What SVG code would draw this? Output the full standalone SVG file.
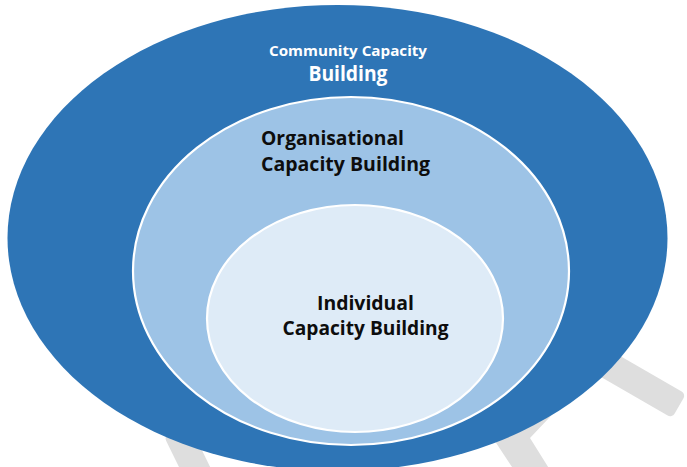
<svg xmlns="http://www.w3.org/2000/svg" width="687" height="467" viewBox="0 0 687 467">
  <style>
    .wm { fill: #DEDEDE; }
    .ring { stroke: #FFFFFF; stroke-width: 2.2; }
    .lbl { font-family: "Open Sans", "Liberation Sans", sans-serif; font-weight: bold; }
    .dark { fill: #0D0D0D; font-size: 20px; }
    .light { fill: #FFFFFF; }
  </style>
  <rect width="687" height="467" fill="#FFFFFF"/>
  <g id="watermark">
    <rect class="wm" x="-160" y="-14" width="160" height="28" rx="5" transform="translate(679,406) rotate(30)"/>
    <polygon class="wm" points="475,411 514,470 550,470 530,438 585,380 540,360"/>
    <rect class="wm" x="0" y="-14" width="60" height="28" rx="5" transform="translate(176.5,430) rotate(64)"/>
  </g>
  <g id="connectors"/>
  <g id="community">
    <ellipse cx="337.5" cy="238" rx="330" ry="233" fill="#2E75B6"/>
    <text class="lbl light" x="348" y="56" font-size="15" text-anchor="middle" textLength="158" lengthAdjust="spacingAndGlyphs">Community Capacity</text>
    <text class="lbl light" x="348" y="81" font-size="21" text-anchor="middle" textLength="79" lengthAdjust="spacingAndGlyphs">Building</text>
  </g>
  <g id="organisational">
    <ellipse class="ring" cx="351" cy="271" rx="218" ry="174" fill="#9DC3E6"/>
    <text class="lbl dark" x="261" y="145" textLength="143" lengthAdjust="spacingAndGlyphs">Organisational</text>
    <text class="lbl dark" x="261" y="170.5" textLength="169" lengthAdjust="spacingAndGlyphs">Capacity Building</text>
  </g>
  <g id="individual">
    <ellipse class="ring" cx="355" cy="318.5" rx="148" ry="113.5" fill="#DEEBF7"/>
    <text class="lbl dark" x="365.5" y="310" text-anchor="middle" textLength="97" lengthAdjust="spacingAndGlyphs">Individual</text>
    <text class="lbl dark" x="365.5" y="334.5" text-anchor="middle" textLength="166" lengthAdjust="spacingAndGlyphs">Capacity Building</text>
  </g>
</svg>
